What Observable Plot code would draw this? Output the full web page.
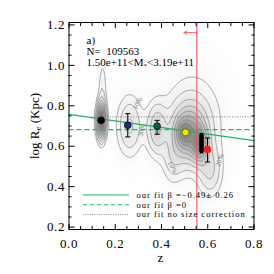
<!DOCTYPE html>
<html><head><meta charset="utf-8">
<script src="https://cdn.jsdelivr.net/npm/d3@7"></script>
<script src="https://cdn.jsdelivr.net/npm/@observablehq/plot@0.6"></script>
<style>body{margin:0;background:#fff}#chart{width:274px;height:274px}</style>
</head><body><div id="chart"></div>
<script>
// binned median points
const ptZ   = [0.139, 0.254, 0.381, 0.504, 0.573, 0.599];
const ptY   = [0.728, 0.704, 0.699, 0.668, 0.612, 0.584];
const ptLo  = [0.722, 0.646, 0.659, 0.660, 0.575, 0.522];
const ptHi  = [0.734, 0.761, 0.728, 0.676, 0.655, 0.641];
const ptColor = ["#000000", "#1c2a8c", "#006a3a", "#f2e600", "#111111", "#ff1a1a"];
// fit lines
const fitZ = [0.0, 0.8];
const fitY = [0.757, 0.628];
const flatY = 0.682;
const noCorrZ = [0.10, 0.8];
const noCorrY = 0.745;
const zCut = 0.553;
const arrowZ = [0.553, 0.497];
const arrowY = 1.162;
// density blobs
const blobZ  = [0.140, 0.145, 0.262, 0.380, 0.520, 0.565, 0.495, 0.535, 0.610, 0.450];
const blobY  = [0.727, 0.880, 0.700, 0.685, 0.665, 0.605, 0.668, 0.720, 0.480, 0.530];
const blobSz = [0.012, 0.012, 0.035, 0.028, 0.045, 0.022, 0.022, 0.085, 0.032, 0.028];
const blobSy = [0.055, 0.100, 0.095, 0.080, 0.085, 0.055, 0.045, 0.160, 0.080, 0.070];
const blobA  = [0.800, 0.070, 0.150, 0.200, 0.420, 0.380, 0.250, 0.100, 0.140, 0.090];
const levels = [0.04, 0.08, 0.14, 0.21, 0.29, 0.38, 0.48, 0.58, 0.70];
// contour labels
const clText = ["10%", "20%", "10%", "30%"];
const clZ = [0.448, 0.651, 0.296, 0.314];
const clY = [0.496, 0.531, 0.812, 0.679];
const clRot = [62, -72, -62, -80];
// ticks
const xMajor = [0, 0.2, 0.4, 0.6, 0.8];
const xMinor = [0.05,0.1,0.15,0.25,0.3,0.35,0.45,0.5,0.55,0.65,0.7,0.75];
const yMajor = [0.2, 0.4, 0.6, 0.8, 1.0, 1.2];
const yMinor = [0.25,0.3,0.35,0.45,0.5,0.55,0.65,0.7,0.75,0.85,0.9,0.95,1.05,1.1,1.15];
// legend
const legLabels = ["our fit \u03B2 =\u22120.49\u00B1 0.26", "our fit \u03B2 =0", "our fit no size correction"];
const legY = [0.3590, 0.3105, 0.2620];
const legZ = [0.063, 0.262];
const legTextZ = 0.292;
// annotations
const annText = ["a)", "N=  109563", "1.50e+11<M*<3.19e+11"];
const annY = [1.124, 1.070, 1.012];
const annZ = 0.0757;

const dens = (x, y) => {
  let s = 0;
  for (let i = 0; i < blobZ.length; i++) {
    const dx = (x - blobZ[i]) / blobSz[i], dy = (y - blobY[i]) / blobSy[i];
    s += blobA[i] * Math.exp(-0.5 * (dx * dx + dy * dy));
  }
  return s;
};
const green = "#1fb36b";
const red = "#ff4d5e";
const hline = {draw(ctx, size) { const r = Math.sqrt(size / Math.PI); ctx.moveTo(-r, 0); ctx.lineTo(r, 0); }};
const capIdx = [1, 2, 5];
const barIdx = [1, 2, 3, 5];
const fmt = d3.format(".1f");
const blank = () => "";
const serif = "'Liberation Serif', serif";

const chart = Plot.plot({
  width: 274, height: 274,
  marginLeft: 68.5, marginRight: 20.5, marginTop: 22, marginBottom: 45,
  style: {fontFamily: serif, fontSize: "13px", color: "#000", background: "#fff"},
  x: {domain: [0, 0.8]},
  y: {domain: [0.188, 1.212]},
  color: {type: "linear", domain: [0, 1], range: ["#ffffff", "#474747"], clamp: true},
  marks: [
    Plot.raster({fill: dens, x1: 0, x2: 0.8, y1: 0.188, y2: 1.212, pixelSize: 1}),
    Plot.contour({value: dens, x1: 0, x2: 0.8, y1: 0.188, y2: 1.212, thresholds: levels, fill: "none", stroke: "#777", strokeWidth: 0.6}),
    Plot.text(clText, {x: (d, i) => clZ[i], y: (d, i) => clY[i], text: d => d, rotate: (d, i) => clRot[i], fontSize: 7, fill: "#777"}),
    // fit lines
    Plot.line(fitZ, {x: d => d, y: (d, i) => fitY[i], stroke: green, strokeWidth: 1.3}),
    Plot.ruleY([flatY], {x1: fitZ[0], x2: fitZ[1], stroke: green, strokeWidth: 1.3, strokeDasharray: "5,3"}),
    Plot.ruleY([noCorrY], {x1: noCorrZ[0], x2: noCorrZ[1], stroke: "#777", strokeWidth: 1, strokeDasharray: "1,1.6"}),
    // cut line and arrow
    Plot.ruleX([zCut], {stroke: red, strokeWidth: 1.1}),
    Plot.arrow([0], {x1: arrowZ[0], x2: arrowZ[1], y1: arrowY, y2: arrowY, stroke: red, strokeWidth: 0.9, headLength: 6}),
    // error bars
    Plot.link(barIdx, {x1: i => ptZ[i], x2: i => ptZ[i], y1: i => ptLo[i], y2: i => ptHi[i], stroke: "#000", strokeWidth: 1}),
    Plot.dot(capIdx, {x: i => ptZ[i], y: i => ptLo[i], symbol: hline, r: 2.6, stroke: "#000", strokeWidth: 1}),
    Plot.dot(capIdx, {x: i => ptZ[i], y: i => ptHi[i], symbol: hline, r: 2.6, stroke: "#000", strokeWidth: 1}),
    Plot.link([4], {x1: i => ptZ[i], x2: i => ptZ[i], y1: i => ptLo[i], y2: i => ptHi[i], stroke: "#000", strokeWidth: 4.5, strokeLinecap: "round"}),
    // points
    Plot.dot([0, 1, 2, 3, 5], {x: i => ptZ[i], y: i => ptY[i], fill: i => ptColor[i], stroke: i => i === 3 ? "#5a6a00" : (i === 5 ? "#ff1a1a" : "#000"), strokeWidth: 0.7, r: 3.4}),
    // legend
    Plot.ruleY([0], {y: () => legY[0], x1: legZ[0], x2: legZ[1], stroke: green, strokeWidth: 1}),
    Plot.ruleY([0], {y: () => legY[1], x1: legZ[0], x2: legZ[1], stroke: green, strokeWidth: 1, strokeDasharray: "4,3"}),
    Plot.ruleY([0], {y: () => legY[2], x1: legZ[0], x2: legZ[1], stroke: "#888", strokeWidth: 1, strokeDasharray: "1,1.3"}),
    Plot.text(legLabels, {x: legTextZ, y: (d, i) => legY[i], text: d => d, textAnchor: "start", fontSize: 8.6, fontFamily: serif, fill: "#000"}),
    // annotations
    Plot.text(annText, {x: annZ, y: (d, i) => annY[i], text: d => d, textAnchor: "start", fontSize: 11, fontFamily: serif, fill: "#000"}),
    // axes
    Plot.axisX({ticks: xMajor, tickFormat: fmt, tickSize: 0, tickPadding: 9, label: null, fontFamily: serif}),
    Plot.axisX({ticks: xMajor, tickFormat: blank, tickSize: -5, label: null}),
    Plot.axisX({ticks: xMinor, tickFormat: blank, tickSize: -3, label: null}),
    Plot.axisX({anchor: "top", ticks: xMajor, tickFormat: blank, tickSize: -5, label: null}),
    Plot.axisX({anchor: "top", ticks: xMinor, tickFormat: blank, tickSize: -3, label: null}),
    Plot.axisY({ticks: yMajor, tickFormat: fmt, tickSize: 0, tickPadding: 4, label: null, fontFamily: serif}),
    Plot.axisY({ticks: yMajor, tickFormat: blank, tickSize: -6, label: null}),
    Plot.axisY({ticks: yMinor, tickFormat: blank, tickSize: -3, label: null}),
    Plot.axisY({anchor: "right", ticks: yMajor, tickFormat: blank, tickSize: -6, label: null}),
    Plot.axisY({anchor: "right", ticks: yMinor, tickFormat: blank, tickSize: -3, label: null}),
    Plot.frame({stroke: "#000", strokeWidth: 1})
  ]
});
document.getElementById("chart").appendChild(chart);

// letter spacing for the wide plotter-style font, subscripts and axis titles
const ns = "http://www.w3.org/2000/svg";
chart.querySelectorAll("text").forEach(t => {
  const s = t.textContent;
  if (/^\d\.\d$/.test(s)) t.setAttribute("letter-spacing", "0.6");
  if (legLabels.includes(s)) t.setAttribute("letter-spacing", "0.95");
  if (s === "1.50e+11<M*<3.19e+11") {
    t.innerHTML = "1.50e+11&lt;M<tspan dy='2' font-size='7'>*</tspan><tspan dy='-2'>&lt;3.19e+11</tspan>";
  }
});
const ylab = document.createElementNS(ns, "text");
ylab.setAttribute("transform", "translate(36,126) rotate(-90)");
ylab.setAttribute("text-anchor", "middle");
ylab.setAttribute("dominant-baseline", "middle");
ylab.setAttribute("font-size", "13");
ylab.setAttribute("font-family", serif);
ylab.setAttribute("fill", "#000");
ylab.innerHTML = "log R<tspan dy='3' font-size='9'>e</tspan><tspan dy='-3'> (Kpc)</tspan>";
chart.appendChild(ylab);
const xlab = document.createElementNS(ns, "text");
xlab.setAttribute("x", "160.5");
xlab.setAttribute("y", "262");
xlab.setAttribute("text-anchor", "middle");
xlab.setAttribute("font-size", "13");
xlab.setAttribute("font-family", serif);
xlab.setAttribute("fill", "#000");
xlab.textContent = "z";
chart.appendChild(xlab);
</script>
</body></html>
